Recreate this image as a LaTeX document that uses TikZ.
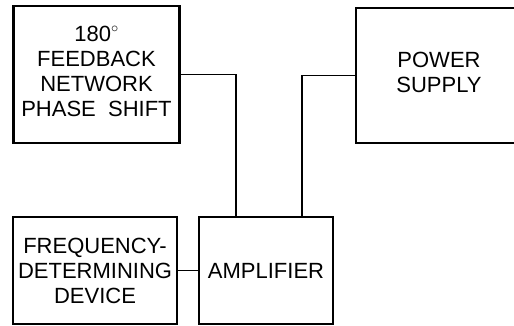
\documentclass[tikz,border=0pt]{standalone}
\usepackage{fontspec}
\setmainfont{Liberation Sans}
\begin{document}
\begin{tikzpicture}[x=1pt,y=-1pt,
  blockbox/.style={draw=black, line width=2.2pt, fill=white, inner sep=0pt, align=center,
    font=\fontsize{22}{25}\selectfont},
  wire/.style={draw=black, line width=1.9pt}]
\useasboundingbox (0,0) rectangle (514,326);
\clip (0,0) rectangle (514,326);
\node[blockbox, minimum width=166pt, minimum height=137pt] (fb) at (96.5,74.5)
  {\raisebox{6pt}{\begin{tabular}{@{}c@{}}180\raisebox{1.5pt}{$^{\circ}$}\\FEEDBACK\\NETWORK\\PHASE\ \ SHIFT\end{tabular}}};
\node[blockbox, minimum width=166pt, minimum height=135pt] (ps) at (439,75.5)
  {\raisebox{4pt}{\begin{tabular}{@{}c@{}}POWER\\SUPPLY\end{tabular}}};
\node[blockbox, minimum width=164pt, minimum height=107pt] (fd) at (95,270.5)
  {FREQUENCY-\\DETERMINING\\DEVICE};
\node[blockbox, minimum width=134pt, minimum height=107pt] (amp) at (266,270.5)
  {AMPLIFIER};
\draw[wire] (fb.east) -| ([xshift=38pt]amp.north west);
\draw[wire] (ps.west) -| ([xshift=104pt]amp.north west);
\draw[wire] (fd.east) -- (amp.west);
\end{tikzpicture}
\end{document}
